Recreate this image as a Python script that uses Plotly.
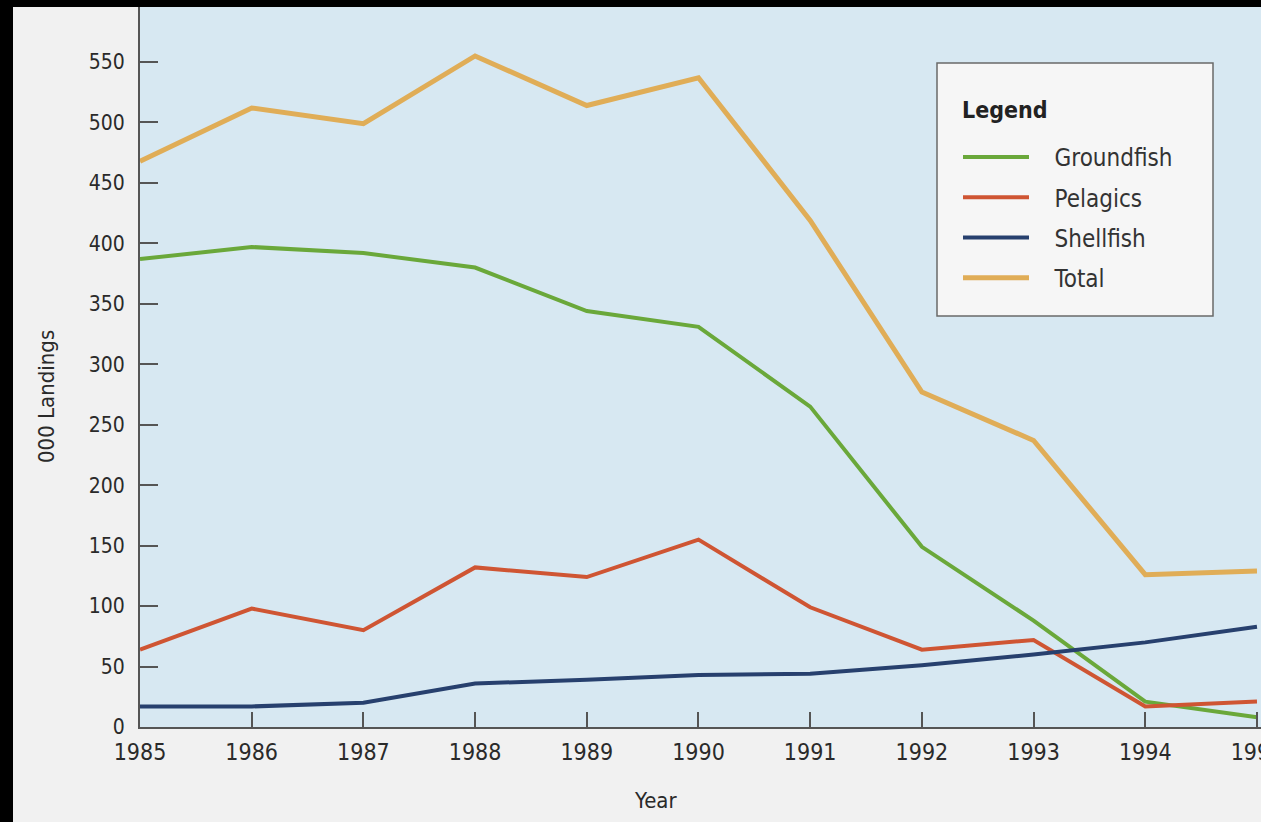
import plotly.graph_objects as go

years = [1985, 1986, 1987, 1988, 1989, 1990, 1991, 1992, 1993, 1994, 1995]
groundfish = [387, 397, 392, 380, 344, 331, 265, 149, 88, 21, 8]
pelagics = [64, 98, 80, 132, 124, 155, 99, 64, 72, 17, 21]
shellfish = [17, 17, 20, 36, 39, 43, 44, 51, 60, 70, 83]
total = [468, 512, 499, 555, 514, 537, 419, 277, 237, 126, 129]

series_names = ["Groundfish", "Pelagics", "Shellfish", "Total"]
series_values = [groundfish, pelagics, shellfish, total]
series_colors = ["#6aa83a", "#cf5533", "#27406e", "#e0ad57"]
series_widths = [4, 4, 4, 5]

ytick_vals = [0, 50, 100, 150, 200, 250, 300, 350, 400, 450, 500, 550]

W, H = 1261, 822
L, R, T, B = 140, 0, 7, 95

FONT = "DejaVu Sans Condensed, Liberation Sans Narrow, Arial Narrow, DejaVu Sans, sans-serif"
NB = "\u00a0"

fig = go.Figure()
for name, vals, col, w in zip(series_names, series_values, series_colors, series_widths):
    fig.add_trace(go.Scatter(x=years, y=vals, mode="lines", name=NB * 3 + name,
                             legendgroup=name,
                             line=dict(color=col, width=w)))

pw = W - L - R
ph = H - T - B
def px_x(p):
    return (p - L) / pw
def px_y(p):
    return (H - B - p) / ph

fig.update_layout(
    width=W, height=H,
    margin=dict(l=L, r=R, t=T, b=B, autoexpand=False),
    paper_bgcolor="#f1f1f1",
    plot_bgcolor="#d7e8f2",
    font=dict(family=FONT, size=21, color="#2a2a2a"),
    showlegend=True,
    legend=dict(
        x=px_x(958), y=px_y(135), xanchor="left", yanchor="top",
        bgcolor="rgba(0,0,0,0)", borderwidth=0,
        font=dict(size=24, family=FONT, color="#333333"),
        tracegroupgap=6, itemwidth=66,
    ),
    shapes=[
        dict(type="rect", xref="paper", yref="paper", layer="above",
             x0=px_x(937), x1=px_x(1213), y0=px_y(316), y1=px_y(63),
             fillcolor="#f6f6f6", line=dict(color="#6a6a6a", width=1.5)),
        dict(type="rect", xref="paper", yref="paper", layer="above",
             x0=px_x(-5), x1=px_x(13), y0=px_y(830), y1=px_y(-5),
             fillcolor="black", line=dict(width=0)),
        dict(type="rect", xref="paper", yref="paper", layer="above",
             x0=px_x(-5), x1=px_x(1270), y0=px_y(7), y1=px_y(-5),
             fillcolor="black", line=dict(width=0)),
    ],
    annotations=[
        dict(text="<b>Legend</b>", xref="paper", yref="paper", x=px_x(960), y=px_y(110),
             xanchor="left", yanchor="middle", showarrow=False,
             font=dict(size=23, family=FONT, color="#222222")),
        dict(text="Year", xref="paper", yref="paper", x=px_x(655), y=px_y(800),
             xanchor="center", yanchor="middle", showarrow=False,
             font=dict(size=22, family=FONT, color="#2a2a2a")),
        dict(text="000 Landings", xref="paper", yref="paper", x=px_x(46), y=px_y(397),
             xanchor="center", yanchor="middle", showarrow=False, textangle=-90,
             font=dict(size=22, family=FONT, color="#2a2a2a")),
    ],
)

fig.update_xaxes(
    range=[1985, 1995.036], tickmode="array", tickvals=years,
    ticktext=[str(y) for y in years], automargin=False,
    ticks="inside", ticklen=15, tickwidth=2, tickcolor="#555555",
    showline=True, linecolor="#555555", linewidth=2,
    showgrid=False, zeroline=False, ticklabeloverflow="allow",
    ticklabelstandoff=3,
    tickfont=dict(size=23, family=FONT, color="#2a2a2a"),
)
fig.update_yaxes(
    range=[0, 595.5], tickmode="array", tickvals=ytick_vals, automargin=False,
    ticks="inside", ticklen=18, tickwidth=2, tickcolor="#555555",
    showline=True, linecolor="#555555", linewidth=2,
    showgrid=False, zeroline=False, ticklabelstandoff=9,
    tickfont=dict(size=21, family=FONT, color="#2a2a2a"),
)

fig.write_html("out.html", config={"displayModeBar": False},
               post_script="document.body.style.margin='0';document.body.style.overflow='hidden';")
